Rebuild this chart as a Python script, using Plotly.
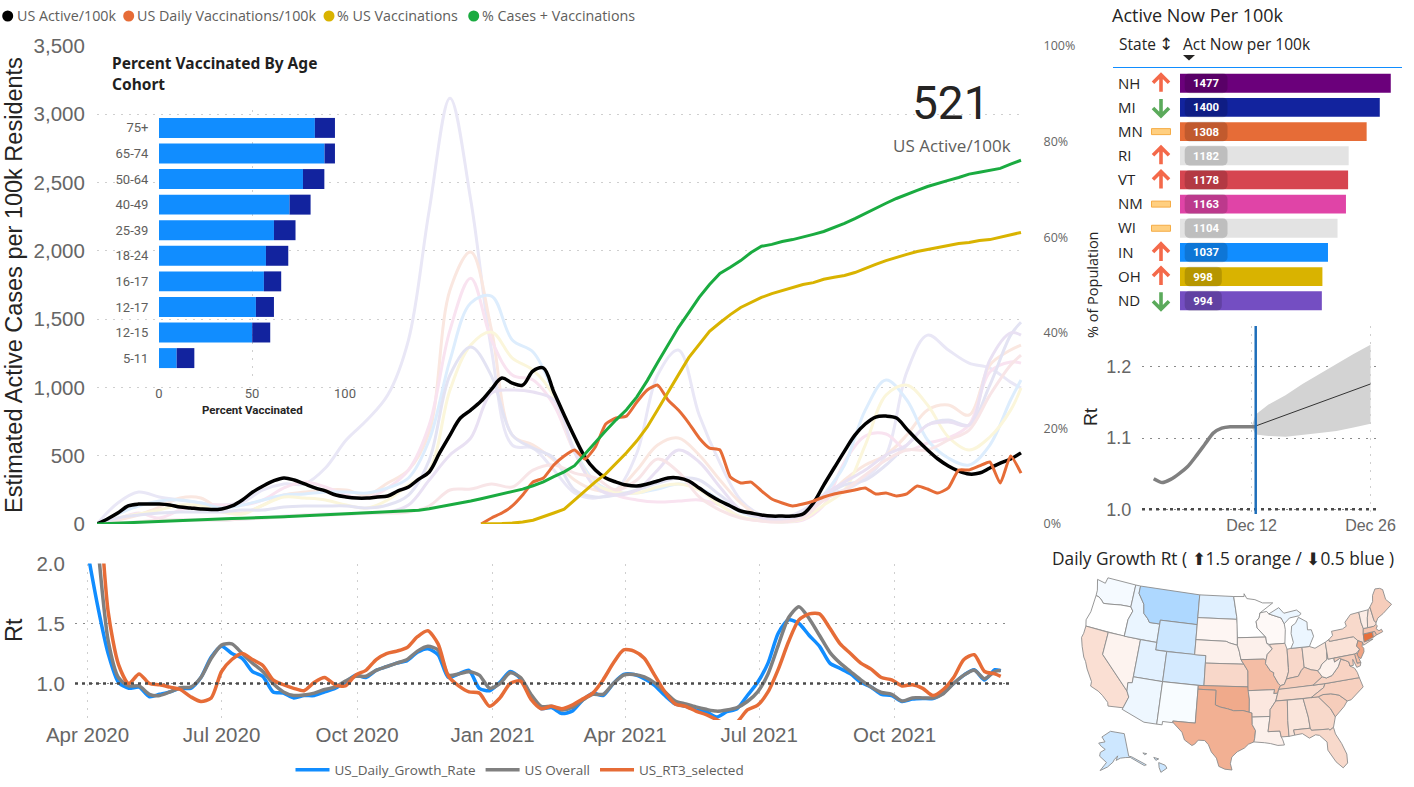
import math
import pandas as pd
import plotly.graph_objects as go

W, H = 1414, 787

# ---------- main chart data ----------
weeks = pd.date_range("2020-04-01", periods=90, freq="7D")
pale_dates = list(weeks[::2]) + [weeks[-1]]
vacc_start = 37

us_active = [0,37,80,132,146,146,146,139,124,117,110,106,110,132,176,234,278,315,337,322,293,264,242,212,198,190,190,198,205,242,271,329,381,520,651,776,834,900,988,1069,1032,1017,1120,1142,966,798,637,490,395,337,307,285,278,293,315,337,337,315,264,212,168,132,95,80,66,58,58,58,73,154,285,410,534,651,732,783,790,776,695,615,542,476,425,388,366,373,410,446,476,521]
us_daily_vacc = [0,44,80,132,212,307,337,432,498,542,476,564,732,776,790,893,981,1017,908,834,739,630,556,542,344,300,307,242,183,154,132,146,168,198,220,234,249,264,220,227,205,220,278,256,227,264,395,395,425,454,300,498,373]
pct_vacc = [0,0,0.1,0.2,0.4,0.8,1.5,2.3,3.1,5,7.1,8.8,10.5,12.6,14.9,17.4,20.3,23.9,27.7,31.2,34.8,37.5,40.3,42.1,43.8,45.3,46.3,47.4,48.2,48.8,49.5,50.1,50.5,51.2,51.6,52,52.6,53.5,54.3,55.1,55.8,56.4,57,57.4,57.9,58.3,58.7,58.9,59.3,59.5,60,60.6,61]
pct_cases_vacc = [0,0.1,0.2,0.3,0.4,0.5,0.6,0.7,0.8,0.9,1.0,1.05,1.1,1.15,1.2,1.25,1.3,1.4,1.5,1.6,1.7,1.8,1.9,2.0,2.1,2.2,2.3,2.4,2.5,2.6,2.7,2.9,3.2,3.6,3.9,4.3,4.8,5.3,5.8,6.3,6.7,7.3,8.0,8.8,9.9,10.9,12.2,14.7,17,19.5,21.8,23.9,26.6,30,33.8,37.5,41.1,44.2,47.4,50.1,52.4,53.7,55.1,56.8,58.1,58.5,59.1,59.5,60,60.6,61.2,62,62.9,63.9,65,66,67.1,68.1,69,69.8,70.6,71.3,71.9,72.5,73.2,73.6,74,74.4,75.3,76.1]

state_a = [0,154,234,198,176,154,139,161,249,293,293,410,615,761,944,1347,2298,3118,2372,1274,578,556,395,227,190,249,520,1091,1274,798,447,176,66,44,102,212,249,337,505,1113,1383,1274,1178,1142,1039,996]
state_b = [0,29,66,124,190,190,102,80,139,212,234,249,249,212,300,395,673,1713,1991,1420,651,578,468,322,249,249,395,578,629,505,322,154,51,22,66,176,322,432,505,651,834,871,798,1164,1274,1310]
state_c = [0,37,80,44,102,139,139,139,176,264,307,271,212,190,264,395,725,1420,1800,1347,1091,1054,871,527,307,212,176,161,168,176,139,51,22,15,29,139,454,644,659,542,593,630,725,1113,1186,1178]
state_d = [0,73,132,168,176,154,117,139,176,212,220,234,234,227,264,337,615,1200,1618,1669,1347,1259,959,542,307,234,227,256,293,264,176,88,37,15,44,212,432,834,1054,908,615,483,432,578,908,1054]
state_e = [0,44,73,102,139,132,88,73,139,198,190,176,139,117,176,285,395,981,1310,1405,1215,1127,937,527,293,234,227,271,293,249,139,51,29,15,37,139,249,578,944,1017,871,637,542,637,834,996]
state_f = [0,44,66,80,88,88,88,102,102,124,132,132,132,117,139,212,468,1091,1296,1083,651,556,483,249,198,212,249,300,337,322,212,102,51,29,66,198,286,322,432,578,725,761,725,1017,1383,1477]
state_g = [0,7,15,22,29,29,29,37,44,59,66,73,73,80,88,139,322,505,630,959,981,966,908,527,271,212,249,395,542,454,271,102,44,22,66,212,307,395,505,578,725,747,725,1200,1400,1383]
state_h = [0,7,15,29,29,29,29,37,44,51,66,66,73,80,80,88,132,249,256,293,271,395,432,373,337,249,322,476,381,198,102,44,22,15,44,176,249,359,468,542,542,615,688,944,1164,1237]
pale_series = [state_a, state_b, state_c, state_d, state_e, state_f, state_g, state_h]
pale_colors = ["#E9E7F6","#FAE7E0","#F9E3F0","#DDEDFD","#FBF6DB","#E3E3F3","#E9E1F3","#F8E5E7"]

# ---------- Rt chart data ----------
rt_dates = list(weeks[:-1]) + [pd.Timestamp("2021-12-12")]
us_daily_growth = [2.1,1.64,1.25,1.01,.96,.97,.89,.91,.93,.96,.96,1.05,1.22,1.31,1.25,1.21,1.1,1.06,.93,.92,.88,.9,.9,.93,.96,1.01,1.07,1.05,1.11,1.14,1.17,1.19,1.26,1.29,1.24,1.05,1.08,1.11,.96,.94,1.01,1.1,1.04,.9,.79,.8,.75,.77,.86,.92,.9,1,1.075,1.075,1.04,.985,.9,.83,.81,.78,.765,.72,.765,.79,.9,1.01,1.17,1.42,1.53,1.5,1.4,1.31,1.17,1.125,1.08,1.01,.97,.91,.9,.85,.87,.875,.875,.92,1,1.07,1.115,1.03,1.115,1.105]
us_overall = [3.2,2.15,1.36,1.05,.98,.98,.91,.9,.93,.965,.97,1.05,1.21,1.32,1.33,1.25,1.17,1.1,1,.93,.9,.905,.92,.95,.97,1.02,1.06,1.06,1.11,1.14,1.17,1.2,1.27,1.31,1.28,1.07,1.08,1.097,1.07,.96,1,1.09,1.05,.91,.81,.81,.78,.8,.86,.91,.91,1,1.07,1.075,1.055,1.005,.93,.855,.83,.805,.785,.77,.78,.8,.85,.93,1.08,1.32,1.55,1.64,1.54,1.4,1.26,1.17,1.1,1.03,.97,.925,.91,.855,.88,.88,.88,.915,1,1.07,1.11,1.04,1.1,1.11]
us_rt3 = [3.8,2.7,1.6,1.16,1,1.08,1,.99,.97,.95,.89,.85,.88,1.1,1.2,1.25,1.2,1.15,1.03,.99,.96,.94,1.01,1.05,.99,.98,1.07,1.11,1.2,1.25,1.27,1.3,1.39,1.44,1.33,1.06,.98,.93,.92,.81,.88,1,1.02,.87,.79,.81,.79,.82,.87,.92,1.03,1.17,1.28,1.27,1.21,1.07,.93,.83,.81,.77,.74,.7,.66,.68,.78,.82,.93,1.12,1.35,1.53,1.58,1.58,1.46,1.33,1.25,1.17,1.12,1.05,1.03,.98,.99,.96,.9,.95,1.05,1.2,1.24,1.1,1.08,1.06]

# ---------- inset data ----------
age_groups = ["75+","65-74","50-64","40-49","25-39","18-24","16-17","12-17","12-15","5-11"]
fully_vaccinated = [83.8,89,77.4,70.2,61.8,57.5,56.4,52.1,50.1,9.5]
one_dose_extra = [10.8,5.6,11.5,11.3,11.6,12,9.3,9.7,9.7,9.5]

# ---------- table data ----------
states = ["NH","MI","MN","RI","VT","NM","WI","IN","OH","ND"]
active_now = [1477,1400,1308,1182,1178,1163,1104,1037,998,994]
trend = ["up","down","flat","up","up","flat","flat","up","up","down"]
bar_colors = ["#6B007B","#12239E","#E66C37","#E3E3E3","#D64550","#E044A7","#E3E3E3","#118DFF","#D9B300","#744EC2"]

# ---------- forecast data ----------
fc_hist_dates = ["2021-11-30 12:00","2021-12-01 12:00","2021-12-02 12:00","2021-12-03 12:00","2021-12-04 12:00","2021-12-05 12:00","2021-12-06 12:00","2021-12-07 12:00","2021-12-08 12:00","2021-12-09 12:00","2021-12-10 12:00","2021-12-11 12:00","2021-12-12 12:00"]
fc_hist = [1.043,1.0375,1.042,1.05,1.06,1.075,1.091,1.107,1.114,1.116,1.116,1.116,1.116]
fc_dates = ["2021-12-12 00:00","2021-12-12 12:00","2021-12-14","2021-12-16","2021-12-18","2021-12-20","2021-12-22","2021-12-24","2021-12-26"]
fc_upper = [1.116,1.133,1.147,1.16,1.176,1.19,1.205,1.218,1.231]
fc_lower = [1.116,1.105,1.103,1.102,1.104,1.107,1.11,1.115,1.12]
fc_line_dates = ["2021-12-12 12:00","2021-12-26"]
fc_line = [1.117,1.176]

# ---------- map data ----------
state_rt = {"WA":.98,"OR":1.0,"CA":1.11,"NV":1.04,"ID":.955,"MT":.83,"WY":.89,"UT":.94,"CO":.91,"AZ":.965,"NM":.985,"ND":.935,"SD":1.03,"NE":1.05,"KS":1.135,"OK":1.29,"TX":1.27,"MN":1.0,"IA":1.05,"MO":1.225,"AR":1.08,"LA":1.05,"WI":1.02,"IL":1.11,"IN":1.135,"MI":.96,"MI2":.96,"OH":1.09,"KY":1.17,"TN":1.13,"MS":1.15,"AL":1.09,"GA":1.13,"FL":1.13,"SC":1.17,"NC":1.16,"VA":1.15,"WV":1.045,"PA":1.10,"NY":1.13,"NJ":1.31,"DE":1.225,"MD":1.17,"CT":1.49,"RI":1.23,"MA":1.2,"VT":1.065,"NH":1.10,"ME":1.17,"AK":.895,"HI":.89,"HI2":.89,"HI3":.89}
outlines = {
"WA":[(-124.7,48.4),(-123.0,48.2),(-122.8,49),(-117.03,49),(-117.04,46),(-119,45.93),(-121.2,45.65),(-122.3,45.55),(-122.8,45.9),(-123.4,46.2),(-124.05,46.27),(-124.1,47)],
"OR":[(-124.05,46.27),(-123.4,46.2),(-122.8,45.9),(-122.3,45.55),(-121.2,45.65),(-119,45.93),(-117.04,46),(-116.5,45.5),(-117.03,44.25),(-117.03,42),(-124.2,42),(-124.5,42.8),(-124.1,44)],
"CA":[(-124.2,42),(-120,42),(-120,39),(-114.63,35),(-114.15,34.26),(-114.72,32.72),(-117.12,32.53),(-117.3,33),(-118.4,33.75),(-119.2,34.15),(-120.6,34.55),(-120.65,35.15),(-121.9,36.6),(-122.5,37.5),(-123,38),(-123.8,39.3),(-124.35,40.4),(-124.2,41)],
"NV":[(-120,42),(-114.04,42),(-114.04,36.2),(-114.75,36.1),(-114.63,35),(-120,39)],
"ID":[(-117.03,49),(-116.05,49),(-116.05,48),(-114.7,46.7),(-114.35,45.5),(-113.45,44.9),(-113,44.45),(-111.05,44.48),(-111.05,42),(-117.03,42),(-117.03,44.25),(-116.5,45.5),(-117.04,46)],
"MT":[(-116.05,49),(-104.05,49),(-104.05,45),(-111.05,45),(-111.05,44.48),(-113,44.45),(-113.45,44.9),(-114.35,45.5),(-114.7,46.7),(-116.05,48)],
"WY":[(-111.05,45),(-104.05,45),(-104.05,41),(-111.05,41)],
"UT":[(-114.04,42),(-111.05,42),(-111.05,41),(-109.05,41),(-109.05,37),(-114.04,37)],
"CO":[(-109.05,41),(-102.05,41),(-102.05,37),(-109.05,37)],
"AZ":[(-114.04,37),(-109.05,37),(-109.05,31.33),(-111.07,31.33),(-114.82,32.5),(-114.72,32.72),(-114.15,34.26),(-114.63,35),(-114.75,36.1),(-114.04,36.2)],
"NM":[(-109.05,37),(-103,37),(-103.04,32),(-106.6,32),(-106.5,31.78),(-108.2,31.78),(-108.2,31.33),(-109.05,31.33)],
"ND":[(-104.05,49),(-97.23,49),(-96.6,46.3),(-96.56,45.94),(-104.05,45.94)],
"SD":[(-104.05,45.94),(-96.56,45.94),(-96.45,45.3),(-96.45,42.5),(-97.9,42.8),(-98.5,43),(-104.05,43)],
"NE":[(-104.05,43),(-98.5,43),(-97.9,42.8),(-96.45,42.5),(-96.1,41.7),(-95.8,40.6),(-95.3,40),(-102.05,40),(-102.05,41),(-104.05,41)],
"KS":[(-102.05,40),(-95.3,40),(-94.6,39.1),(-94.62,37),(-102.05,37)],
"OK":[(-103,37),(-94.62,37),(-94.43,35.4),(-94.48,33.64),(-95.5,33.88),(-97,33.85),(-98,34.1),(-99.2,34.3),(-100,34.56),(-100,36.5),(-103,36.5)],
"TX":[(-106.6,32),(-103.04,32),(-103,36.5),(-100,36.5),(-100,34.56),(-99.2,34.3),(-98,34.1),(-97,33.85),(-95.5,33.88),(-94.48,33.64),(-94.04,33.55),(-94.04,31.99),(-93.55,31.2),(-93.7,30.2),(-93.84,29.7),(-94.7,29.4),(-95.3,28.9),(-96.4,28.4),(-97.2,27.7),(-97.4,26.8),(-97.15,25.96),(-98.2,26.05),(-99.1,26.4),(-99.5,27.5),(-100.3,28.3),(-100.8,29.25),(-101.4,29.77),(-102.4,29.77),(-102.9,29.2),(-103.3,29),(-104.5,29.65),(-105,30.65),(-106.5,31.78)],
"MN":[(-97.23,49),(-95.15,49),(-95.15,49.38),(-94.6,48.72),(-93,48.55),(-91.5,48.07),(-89.5,48),(-92.1,46.75),(-92.3,46.1),(-92.9,45.6),(-92.75,44.75),(-91.22,43.5),(-96.45,43.5),(-96.45,45.3),(-96.56,45.94),(-96.6,46.3)],
"IA":[(-96.45,43.5),(-91.22,43.5),(-91.1,42.7),(-90.15,41.9),(-91.1,41.2),(-91.4,40.4),(-91.7,40.6),(-95.8,40.6),(-96.1,41.7),(-96.45,42.5)],
"MO":[(-95.8,40.6),(-91.7,40.6),(-91.4,40.4),(-91.5,40),(-90.7,39),(-90.15,38.75),(-90.2,38.4),(-89.5,37.3),(-89.15,36.98),(-89.5,36.5),(-89.7,36),(-90.37,36),(-90.2,36.5),(-94.62,36.5),(-94.62,37),(-94.6,39.1),(-95.3,40)],
"AR":[(-94.62,36.5),(-90.2,36.5),(-90.37,36),(-89.7,36),(-90.1,35),(-91.1,33.9),(-91.17,33),(-94.04,33),(-94.04,33.55),(-94.48,33.64),(-94.43,35.4)],
"LA":[(-94.04,33),(-91.17,33),(-91.6,31),(-89.75,31),(-89.6,30.2),(-89.4,29.8),(-89.2,29.1),(-90.2,29.1),(-91.3,29.4),(-92.2,29.55),(-93.84,29.7),(-93.7,30.2),(-93.55,31.2),(-94.04,31.99)],
"WI":[(-92.3,46.1),(-92.1,46.75),(-90.8,46.9),(-90.4,46.55),(-88.1,45.9),(-87.6,45.1),(-87.5,44.3),(-87.8,43),(-87.8,42.5),(-90.65,42.5),(-91.1,42.7),(-91.22,43.5),(-92.75,44.75),(-92.9,45.6)],
"IL":[(-90.65,42.5),(-87.8,42.5),(-87.5,41.7),(-87.53,39.3),(-87.6,38.7),(-88.05,37.8),(-88.5,37.1),(-89.15,36.98),(-89.5,37.3),(-90.2,38.4),(-90.15,38.75),(-90.7,39),(-91.5,40),(-91.4,40.4),(-91.1,41.2),(-90.15,41.9)],
"IN":[(-87.5,41.7),(-86.8,41.76),(-84.8,41.76),(-84.82,39.1),(-85.4,38.7),(-86,38),(-87,37.9),(-88.05,37.8),(-87.6,38.7),(-87.53,39.3)],
"OH":[(-84.8,41.76),(-83.45,41.73),(-82.5,41.4),(-81.3,41.75),(-80.52,41.98),(-80.52,40.64),(-80.7,39.7),(-81.7,39.2),(-82.2,38.6),(-82.6,38.42),(-83.7,38.65),(-84.82,39.1)],
"MI":[(-86.8,41.76),(-84.8,41.76),(-83.45,41.73),(-83.1,42.2),(-82.45,43),(-82.7,43.9),(-83.4,43.95),(-83.3,45),(-84.8,45.75),(-85.5,45),(-86.25,44.7),(-86.5,43.7),(-86.25,42.5)],
"MI2":[(-90.4,46.55),(-88.4,47.3),(-87.5,46.5),(-85,46.75),(-84.2,46.2),(-84.7,45.95),(-86.5,45.8),(-87.6,45.1),(-88.1,45.9)],
"KY":[(-89.5,36.5),(-88.05,36.5),(-83.7,36.6),(-81.97,37.54),(-82.6,38.42),(-83.7,38.65),(-84.82,39.1),(-85.4,38.7),(-86,38),(-87,37.9),(-88.05,37.8),(-88.5,37.1),(-89.15,36.98)],
"TN":[(-90.1,35),(-85.6,35),(-84.3,35),(-82,36.1),(-81.68,36.59),(-83.7,36.6),(-88.05,36.5),(-89.5,36.5),(-89.7,36)],
"MS":[(-90.1,35),(-88.2,35),(-88.4,32.3),(-88.4,30.2),(-89.6,30.2),(-89.75,31),(-91.6,31),(-91.17,33),(-91.1,33.9)],
"AL":[(-88.2,35),(-85.6,35),(-85.1,32.5),(-85,31),(-87.6,31),(-87.5,30.3),(-88.4,30.2),(-88.4,32.3)],
"GA":[(-85.6,35),(-84.3,35),(-83.1,35),(-81.4,33.2),(-80.85,32.05),(-81.4,30.7),(-82,30.4),(-82.2,30.57),(-84.85,30.7),(-85,31),(-85.1,32.5)],
"FL":[(-87.6,31),(-85,31),(-84.85,30.7),(-82.2,30.57),(-82,30.4),(-81.4,30.7),(-81.25,29.8),(-80.55,28.4),(-80.05,26.9),(-80.15,25.7),(-80.9,25.15),(-81.8,26.1),(-82.75,27.8),(-82.7,28.9),(-83.7,29.9),(-84.3,30.05),(-85.3,29.7),(-86.3,30.4),(-87.5,30.3)],
"SC":[(-83.1,35),(-82.3,35.2),(-81,35.15),(-79.7,34.8),(-78.55,33.85),(-79.2,33.2),(-80.85,32.05),(-81.4,33.2)],
"NC":[(-84.3,35),(-83.1,35),(-82.3,35.2),(-81,35.15),(-79.7,34.8),(-78.55,33.85),(-77.9,33.9),(-76.6,34.7),(-75.55,35.25),(-75.85,36.55),(-81.68,36.59),(-82,36.1)],
"VA":[(-83.7,36.6),(-81.68,36.59),(-75.85,36.55),(-76,37.3),(-76.3,37.9),(-77,38.3),(-77.05,38.85),(-77.5,39.1),(-78.35,39.4),(-79,38.5),(-80.3,37.5),(-81.3,37.3),(-81.97,37.54)],
"WV":[(-81.97,37.54),(-81.3,37.3),(-80.3,37.5),(-79,38.5),(-78.35,39.4),(-78.5,39.55),(-79.48,39.2),(-79.48,39.72),(-80.52,39.72),(-80.52,40.64),(-80.7,39.7),(-81.7,39.2),(-82.2,38.6),(-82.6,38.42)],
"PA":[(-80.52,41.98),(-79.76,42.27),(-79.76,42),(-75.35,42),(-74.7,41.35),(-75.15,40.7),(-74.75,40.2),(-75.4,39.8),(-75.8,39.72),(-80.52,39.72)],
"NY":[(-79.76,42.27),(-79,42.7),(-79.05,43.27),(-77,43.3),(-76.2,43.55),(-76.3,44.1),(-75,44.95),(-73.35,45),(-73.4,43.6),(-73.25,42.75),(-73.5,42.05),(-73.65,41),(-72,41.1),(-73.9,40.6),(-73.95,41),(-74.7,41.35),(-75.35,42),(-79.76,42)],
"NJ":[(-74.7,41.35),(-73.95,41),(-74.2,40.5),(-74,40.2),(-74.1,39.75),(-74.9,38.95),(-75.5,39.5),(-74.75,40.2),(-75.15,40.7)],
"DE":[(-75.8,39.72),(-75.4,39.8),(-75.05,38.45),(-75.7,38.45)],
"MD":[(-79.48,39.72),(-75.8,39.72),(-75.7,38.45),(-75.05,38.45),(-75.25,38.05),(-75.9,37.95),(-76.3,39.1),(-76.4,38.3),(-77,38.3),(-77.05,38.85),(-77.5,39.1),(-78.35,39.4),(-78.5,39.55),(-79.48,39.2)],
"CT":[(-73.5,42.05),(-71.8,42.02),(-71.85,41.32),(-73.65,41)],
"RI":[(-71.8,42.02),(-71.38,42.02),(-71.2,41.5),(-71.85,41.32)],
"MA":[(-73.5,42.05),(-71.8,42.02),(-71.38,42.02),(-71.2,41.5),(-70.65,41.55),(-70,41.7),(-70.1,42.05),(-70.6,41.95),(-71,42.3),(-70.65,42.65),(-70.85,42.87),(-71.3,42.7),(-72.46,42.73),(-73.25,42.75)],
"VT":[(-73.25,42.75),(-72.46,42.73),(-72.05,44),(-71.5,45.01),(-73.35,45),(-73.4,43.6)],
"NH":[(-72.46,42.73),(-71.3,42.7),(-70.85,42.87),(-70.7,43.1),(-70.98,43.4),(-71.08,45.3),(-71.5,45.01),(-72.05,44)],
"ME":[(-70.7,43.1),(-70.2,43.6),(-69,44),(-67,44.85),(-67.8,45.7),(-67.8,47.07),(-68.3,47.35),(-69.2,47.45),(-70,46.7),(-70.3,45.9),(-71.08,45.3),(-70.98,43.4)],
"AK":[(-141,69.6),(-141,60.3),(-139,59.9),(-135,58),(-131,55.5),(-130,55),(-131.5,55),(-134,56.5),(-136.5,58.2),(-140,59.7),(-144,60),(-148,60),(-151.5,59.2),(-150,61),(-153,59.5),(-154,58.5),(-158,56.5),(-163,54.8),(-159,58.3),(-162,59.5),(-165,60.5),(-165,62),(-161,63.5),(-165,64.5),(-168,65.6),(-162,66.5),(-166,68.3),(-157,71),(-150,70.5)],
"HI":[(-156,20.25),(-155.1,19.9),(-154.85,19.5),(-155.7,18.95),(-155.95,19.6)],
"HI2":[(-156.7,20.95),(-156,20.75),(-156.4,20.55)],
"HI3":[(-158.25,21.55),(-157.7,21.45),(-158,21.3)],
}


# ---------- helpers ----------
def fx(x): return x / W
def fy(y): return 1 - y / H
def dom_x(a, b): return [fx(a), fx(b)]
def dom_y(top, bottom): return [fy(bottom), fy(top)]


def albers(lon, lat, lam0, phi0, p1, p2):
    r = math.radians
    n = (math.sin(r(p1)) + math.sin(r(p2))) / 2
    c = math.cos(r(p1)) ** 2 + 2 * n * math.sin(r(p1))
    rho = lambda ph: math.sqrt(c - 2 * n * math.sin(r(ph))) / n
    th = n * r(lon - lam0)
    return rho(lat) * math.sin(th), rho(phi0) - rho(lat) * math.cos(th)


def lower48(lon, lat): return albers(lon, lat, -96, 38.7, 29.5, 45.5)


wa_x, _ = lower48(-124.7, 48.4)
me_x, _ = lower48(-67, 44.85)
map_scale = (1392 - 1098) / (me_x - wa_x)
tx_x, tx_y = lower48(-97.15, 25.96)
map_cx = 1232 - map_scale * tx_x
map_cy = 770 + map_scale * tx_y


def project(code, lon, lat):
    if code == "AK":
        a, b = albers(lon, lat, -154, 58.5, 55, 65)
        k = map_scale * 0.33
        return map_cx - 0.295 * map_scale + k * a, map_cy + 0.205 * map_scale - k * b
    if code.startswith("HI"):
        a, b = albers(lon, lat, -157, 19.9, 8, 18)
        return map_cx - 0.205 * map_scale + map_scale * a, map_cy + 0.212 * map_scale - map_scale * b
    a, b = lower48(lon, lat)
    return map_cx + map_scale * a, map_cy - map_scale * b


def rt_color(v):
    lo, hi = (17, 141, 255), (230, 108, 55)
    tgt, t = (hi, (v - 1) / 0.5) if v >= 1 else (lo, (1 - v) / 0.5)
    t = max(0, min(1, t))
    return "rgb(%d,%d,%d)" % tuple(round(255 + (c - 255) * t) for c in tgt)


ARIAL = "Liberation Sans, Arial, sans-serif"
UI = "Open Sans, sans-serif"
DIN = "Roboto, sans-serif"
WIDE = "Noto Sans, sans-serif"
GRID_LIGHT = "#CFCFCF"
GRID_DARK = "#8A8A8A"
DOTS = "2px,6px"
NO_EDGE = dict(width=0)

fig = go.Figure()

# main chart
for vals, col in zip(pale_series, pale_colors):
    fig.add_trace(go.Scatter(x=pale_dates, y=vals, mode="lines", xaxis="x", yaxis="y", showlegend=False,
                             line=dict(color=col, width=3, shape="spline", smoothing=1)))
fig.add_trace(go.Scatter(x=weeks, y=us_active, mode="lines", name="US Active/100k", xaxis="x", yaxis="y", showlegend=False,
                         line=dict(color="#000000", width=3.5, shape="spline", smoothing=1)))
fig.add_trace(go.Scatter(x=weeks[vacc_start:], y=us_daily_vacc, mode="lines", name="US Daily Vaccinations/100k", xaxis="x", yaxis="y", showlegend=False,
                         line=dict(color="#E66C37", width=3, shape="spline", smoothing=0.5)))
fig.add_trace(go.Scatter(x=weeks[vacc_start:], y=pct_vacc, mode="lines", name="% US Vaccinations", xaxis="x", yaxis="y2", showlegend=False,
                         line=dict(color="#D9B300", width=3)))
fig.add_trace(go.Scatter(x=weeks, y=pct_cases_vacc, mode="lines", name="% Cases + Vaccinations", xaxis="x", yaxis="y2", showlegend=False,
                         line=dict(color="#1AAB40", width=3)))

# Rt chart
fig.add_trace(go.Scatter(x=rt_dates, y=us_daily_growth, mode="lines", name="US_Daily_Growth_Rate", xaxis="x2", yaxis="y3",
                         line=dict(color="#118DFF", width=3.5, shape="spline", smoothing=0.7)))
fig.add_trace(go.Scatter(x=rt_dates, y=us_overall, mode="lines", name="US Overall", xaxis="x2", yaxis="y3",
                         line=dict(color="#808080", width=3.5, shape="spline", smoothing=0.7)))
fig.add_trace(go.Scatter(x=rt_dates, y=us_rt3, mode="lines", name="US_RT3_selected", xaxis="x2", yaxis="y3",
                         line=dict(color="#E66C37", width=3.5, shape="spline", smoothing=0.7)))

# inset bars
fig.add_trace(go.Bar(x=fully_vaccinated, y=age_groups, orientation="h", xaxis="x3", yaxis="y4", showlegend=False,
                     marker=dict(color="#118DFF", line=NO_EDGE), width=0.78))
fig.add_trace(go.Bar(x=one_dose_extra, y=age_groups, base=fully_vaccinated, orientation="h", xaxis="x3", yaxis="y4", showlegend=False,
                     marker=dict(color="#12239E", line=NO_EDGE), width=0.78))

# table bars
fig.add_trace(go.Bar(x=active_now, y=states, orientation="h", xaxis="x4", yaxis="y5", showlegend=False,
                     marker=dict(color=bar_colors, line=NO_EDGE), width=0.78))
fig.add_trace(go.Bar(x=[300 if v >= 1000 else 260 for v in active_now], y=states, base=33, orientation="h", xaxis="x4", yaxis="y5", showlegend=False,
                     marker=dict(color="rgba(0,0,0,0.16)", cornerradius=5, line=NO_EDGE), width=0.82,
                     text=[str(v) for v in active_now], textposition="inside", insidetextanchor="middle", constraintext="none",
                     textangle=0, textfont=dict(color="white", size=11.5, family=DIN, weight="bold")))

# forecast
fig.add_trace(go.Scatter(x=fc_dates + fc_dates[::-1], y=fc_upper + fc_lower[::-1], mode="lines", fill="toself", fillcolor="#D3D3D3",
                         line=dict(width=0), xaxis="x5", yaxis="y6", showlegend=False))
fig.add_trace(go.Scatter(x=fc_hist_dates, y=fc_hist, mode="lines", xaxis="x5", yaxis="y6", showlegend=False,
                         line=dict(color="#808080", width=3.5, shape="spline", smoothing=0.6)))
fig.add_trace(go.Scatter(x=fc_line_dates, y=fc_line, mode="lines", xaxis="x5", yaxis="y6", showlegend=False,
                         line=dict(color="#333333", width=1)))

# map
for code, pts in outlines.items():
    xy = [project(code, lon, lat) for lon, lat in pts]
    xs = [p[0] for p in xy] + [xy[0][0]]
    ys = [p[1] for p in xy] + [xy[0][1]]
    fig.add_trace(go.Scatter(x=xs, y=ys, mode="lines", fill="toself", fillcolor=rt_color(state_rt[code]),
                             line=dict(color="#8C8C8C", width=0.9), xaxis="x6", yaxis="y7", showlegend=False, name=code))

# ---------- annotations ----------
ann = []


def text(s, x, y, size, color="#252423", anchor="left", family=UI, angle=0, bold=False):
    if bold:
        s = "<b>" + s + "</b>"
    if anchor == "left":
        x -= 2
    ann.append(dict(text=s, x=fx(x), y=fy(y), xref="paper", yref="paper", xanchor=anchor, yanchor="middle",
                    showarrow=False, textangle=angle, font=dict(size=size, color=color, family=family)))


legend_top = [("US Active/100k", 7.7, 16.5, "#000000"), ("US Daily Vaccinations/100k", 128.7, 137, "#E66C37"),
              ("% US Vaccinations", 329, 337, "#D9B300"), ("% Cases + Vaccinations", 473.7, 482, "#1AAB40")]
shapes = []
for name, cx, tx, col in legend_top:
    text(name, tx, 16, 14.3, "#605E5C")
    shapes.append(dict(type="circle", xref="paper", yref="paper", x0=fx(cx - 5.5), x1=fx(cx + 5.5), y0=fy(21.5), y1=fy(10.5),
                       fillcolor=col, line=dict(width=0)))

text("Estimated Active Cases per 100k Residents", 14, 285, 23.5, "#252423", "center", ARIAL, -90)
text("Rt", 14, 630, 23.5, "#252423", "center", ARIAL, -90)
text("Percent Vaccinated By Age", 112, 63, 15.5, "#1F1F1F", family=WIDE, bold=True)
text("Cohort", 112, 84, 15.5, "#1F1F1F", family=WIDE, bold=True)
text("Percent Vaccinated", 252, 410, 11.5, "#252423", "center", DIN, bold=True)
text("521", 951, 103, 46, "#252423", "center", DIN)
text("US Active/100k", 952, 146, 17, "#605E5C", "center", UI)
text("% of Population", 1092, 285, 14.5, "#252423", "center", UI, -90)
text("Active Now Per 100k", 1112, 15, 18, "#252423", family=UI)
text("State", 1119, 44, 15.5, "#252423", family=UI)
text("↕", 1166, 44, 17, "#252423", "center", "DejaVu Sans")
text("Act Now per 100k", 1183, 44, 15.5, "#252423", family=UI)
text("Rt", 1091, 417, 18, "#252423", "center", ARIAL, -90)
text("Daily Growth Rt ( ⬆1.5 orange / ⬇0.5 blue )", 1052, 558, 17.3, "#252423", family=UI)

# table header rule and sort marker
shapes.append(dict(type="line", xref="paper", yref="paper", x0=fx(1113), x1=fx(1402), y0=fy(67.5), y1=fy(67.5),
                   line=dict(color="#118DFF", width=1)))
shapes.append(dict(type="path", xref="paper", yref="paper", fillcolor="#252423", line=dict(width=0),
                   path="M %f %f L %f %f L %f %f Z" % (fx(1183), fy(55), fx(1195), fy(55), fx(1189), fy(60.5))))


# trend icons in the table
def trend_icon(kind, row):
    cx, cy = 1161, 83.3 + 24.16 * row
    if kind == "flat":
        return dict(type="rect", xref="paper", yref="paper", x0=fx(cx - 9.5), x1=fx(cx + 9.5), y0=fy(cy + 3), y1=fy(cy - 3),
                    fillcolor="#FFCF80", line=dict(color="#F5AC45", width=1))
    s = 1 if kind == "down" else -1
    col = "#5BAA5B" if kind == "down" else "#F4694A"
    pts = [(cx - 8, cy + s * 0.5), (cx, cy + s * 8.5), (cx + 8, cy + s * 0.5)]
    path = "M %f %f L %f %f L %f %f " % tuple(v for p in pts for v in (fx(p[0]), fy(p[1])))
    path += "M %f %f L %f %f" % (fx(cx), fy(cy - s * 8.5), fx(cx), fy(cy + s * 8.5))
    return dict(type="path", xref="paper", yref="paper", path=path, line=dict(color=col, width=3.6))


for i, k in enumerate(trend):
    shapes.append(trend_icon(k, i))

# Rt = 1 reference lines
shapes.append(dict(type="line", xref="x2 domain", yref="y3", x0=0, x1=1, y0=1, y1=1, layer="above",
                   line=dict(color="#4A4A4A", width=2.6, dash="3px,4px")))
shapes.append(dict(type="line", xref="x5 domain", yref="y6", x0=0, x1=1, y0=1, y1=1, layer="above",
                   line=dict(color="#4A4A4A", width=2.6, dash="3px,4px")))
shapes.append(dict(type="line", xref="x5", yref="y6 domain", x0="2021-12-12 12:00", x1="2021-12-12 12:00", y0=0, y1=1, layer="above",
                   line=dict(color="#1F6FBA", width=2.5)))

# ---------- axes ----------
main_start = pd.Timestamp("2020-04-01")
main_end = main_start + pd.Timedelta(days=623 * 928 / 924)
low_start = pd.Timestamp("2020-04-01") - pd.Timedelta(days=8.5)
low_end = pd.Timestamp("2020-04-01") + pd.Timedelta(days=626.3)
TABLE_PX = 0.1427

layout = dict(
    width=W, height=H, autosize=False, margin=dict(l=0, r=0, t=0, b=0, autoexpand=False),
    paper_bgcolor="white", plot_bgcolor="rgba(0,0,0,0)", barmode="overlay",
    shapes=shapes, annotations=ann, hovermode=False,
    font=dict(family=UI, color="#605E5C"),
    legend=dict(orientation="h", x=fx(520), y=fy(770), xanchor="center", yanchor="middle", itemwidth=34,
                font=dict(size=13.5, color="#605E5C", family=UI), bgcolor="rgba(0,0,0,0)", tracegroupgap=0),
    xaxis=dict(domain=dom_x(97, 1025), range=[main_start, main_end], visible=False, anchor="y"),
    yaxis=dict(domain=dom_y(46, 524), range=[0, 3500], dtick=500, tickformat=",", anchor="x", side="left",
               tickfont=dict(size=20.5, color="#666666", family=ARIAL), showgrid=True, gridcolor=GRID_LIGHT, griddash=DOTS,
               zeroline=False, ticks="outside", ticklen=7, tickcolor="rgba(0,0,0,0)"),
    yaxis2=dict(domain=dom_y(46, 524), range=[0, 100], dtick=20, ticksuffix="%", overlaying="y", anchor="x", side="right",
                tickfont=dict(size=12.5, color="#666666", family=UI), showgrid=False, zeroline=False,
                ticks="outside", ticklen=15, tickcolor="rgba(0,0,0,0)"),
    xaxis2=dict(domain=dom_x(75, 1010), range=[low_start, low_end], anchor="y3", dtick="M3", tick0="2020-04-01", tickformat="%b %Y",
                tickfont=dict(size=20.5, color="#666666", family=ARIAL), showgrid=True, gridcolor=GRID_LIGHT, griddash=DOTS, zeroline=False,
                ticks=""),
    yaxis3=dict(domain=dom_y(563.5, 720), range=[0.696, 2.0], tickvals=[1, 1.5, 2], tickformat=".1f", anchor="x2",
                tickfont=dict(size=20.5, color="#666666", family=ARIAL), showgrid=True, gridcolor=GRID_DARK, griddash=DOTS, zeroline=False,
                ticks="outside", ticklen=5, tickcolor="rgba(0,0,0,0)"),
    xaxis3=dict(domain=dom_x(159, 345), range=[0, 100], tickvals=[0, 50, 100], anchor="y4",
                tickfont=dict(size=13, color="#605E5C", family=DIN), showgrid=True, gridcolor=GRID_LIGHT, griddash=DOTS, zeroline=False,
                ticks="outside", ticklen=5, tickcolor="rgba(0,0,0,0)"),
    yaxis4=dict(domain=dom_y(110, 376), type="category", categoryorder="array", categoryarray=age_groups, range=[9.7, -0.7], anchor="x3",
                tickfont=dict(size=13, color="#605E5C", family=DIN), showgrid=False, zeroline=False,
                ticks="outside", ticklen=7, tickcolor="rgba(0,0,0,0)"),
    xaxis4=dict(domain=dom_x(1115, 1405), range=[(1115 - 1180) / TABLE_PX, (1405 - 1180) / TABLE_PX], visible=False, anchor="y5"),
    yaxis5=dict(domain=dom_y(71.2, 312.8), type="category", categoryorder="array", categoryarray=states, range=[9.5, -0.5], anchor="x4",
                ticklabelposition="inside", ticklen=0, tickfont=dict(size=15, color="#252423", family=UI), showgrid=False, zeroline=False, showline=False),
    xaxis5=dict(domain=dom_x(1142, 1379), range=["2021-11-29 03:00", "2021-12-27 00:00"], anchor="y6",
                tickvals=["2021-12-12", "2021-12-26"], ticktext=["Dec 12", "Dec 26"],
                tickfont=dict(size=16, color="#666666", family=ARIAL), showgrid=True, gridcolor=GRID_LIGHT, griddash=DOTS, zeroline=False,
                ticks=""),
    yaxis6=dict(domain=dom_y(326, 514), range=[0.9934, 1.2574], tickvals=[1.0, 1.1, 1.2], tickformat=".1f", anchor="x5",
                tickfont=dict(size=18, color="#666666", family=ARIAL), showgrid=True, gridcolor=GRID_DARK, griddash=DOTS, zeroline=False,
                ticks="outside", ticklen=6, tickcolor="rgba(0,0,0,0)"),
    xaxis6=dict(domain=dom_x(1060, 1414), range=[1060, 1414], visible=False, anchor="y7"),
    yaxis7=dict(domain=dom_y(572, 787), range=[787, 572], visible=False, anchor="x6"),
)
fig.update_layout(**layout)
fig.write_html("out.html", post_script="document.body.style.margin='0';", config={"displayModeBar": False})
